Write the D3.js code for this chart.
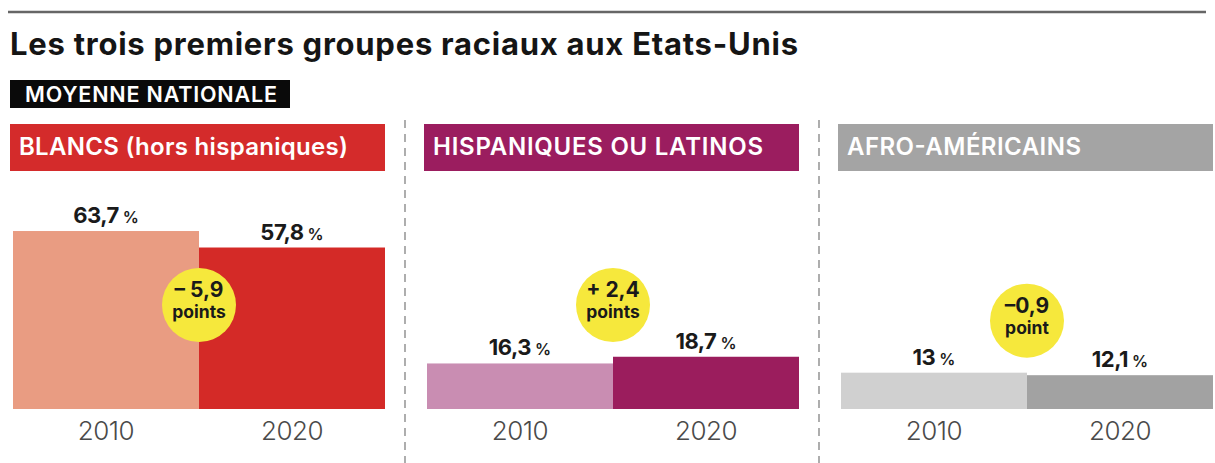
<!DOCTYPE html>
<html>
<head>
<meta charset="utf-8">
<script src="https://cdn.jsdelivr.net/npm/d3@7"></script>
<style>
  html, body { margin: 0; padding: 0; background: #fff; }
  svg { display: block; font-family: Inter, "Noto Sans", sans-serif; }
</style>
</head>
<body>
<svg id="chart" width="1215" height="463"></svg>
<script>
// ---- Data ----
const title = "Les trois premiers groupes raciaux aux Etats-Unis";
const subtitle = "MOYENNE NATIONALE";
const groups = ["BLANCS (hors hispaniques)", "HISPANIQUES OU LATINOS", "AFRO-AMÉRICAINS"];
const years = ["2010", "2020"];
const values2010 = [63.7, 16.3, 13];
const values2020 = [57.8, 18.7, 12.1];

// ---- Styles / layout ----
const headerColors = ["#d42b2b", "#9b1d5f", "#a4a4a4"];
const colors2010 = ["#e99c82", "#c98db2", "#d0d0d0"];
const colors2020 = ["#d42a27", "#9b1d5d", "#a2a2a2"];
const headerTextWidths = [329, 330, 234];
const yellow = "#f6e83c";

const svg = d3.select("#chart");
const locale = d3.formatLocale({ decimal: ",", thousands: " ", grouping: [3], currency: ["", "€"] });
const fmt = v => locale.format(",.1~f")(v);

// Top rule
svg.append("line").attr("x1", 8).attr("x2", 1206).attr("y1", 12).attr("y2", 12)
  .attr("stroke", "#666").attr("stroke-width", 2.5);

// Title
svg.append("text").attr("x", 10).attr("y", 55).text(title)
  .attr("font-size", 31).attr("font-weight", 700).attr("fill", "#151515")
  .attr("textLength", 788).attr("lengthAdjust", "spacing");

// Subtitle badge
const badge = svg.append("g");
badge.append("rect").attr("x", 10).attr("y", 80).attr("width", 280).attr("height", 28).attr("fill", "#0a0a0a");
badge.append("text").attr("x", 25).attr("y", 102).text(subtitle)
  .attr("font-size", 21.5).attr("font-weight", 600).attr("fill", "#fff")
  .attr("textLength", 252).attr("lengthAdjust", "spacing");

// Scales
const panel = d3.scaleBand().domain(groups).range([12, 12 + 414 * 3]).paddingInner(0).paddingOuter(0);
const y = d3.scaleLinear().domain([0, 100]).range([409, 409 - 279.4]);
const barWidth = 372;

groups.forEach((g, i) => {
  const x0 = panel(g);
  const gp = svg.append("g");
  const x = d3.scaleBand().domain(years).range([x0 + 1, x0 + 1 + barWidth]).padding(0);
  const vals = [values2010[i], values2020[i]];
  const cols = [colors2010[i], colors2020[i]];

  // separator
  if (i > 0) {
    gp.append("line").attr("x1", x0 - 21).attr("x2", x0 - 21).attr("y1", 120).attr("y2", 463)
      .attr("stroke", "#9a9a9a").attr("stroke-width", 1.6).attr("stroke-dasharray", "8,6");
  }

  // header
  gp.append("rect").attr("x", x0 - 2).attr("y", 124).attr("width", 375).attr("height", 47)
    .attr("fill", headerColors[i]);
  gp.append("text").attr("x", x0 + 7).attr("y", 155).text(g)
    .attr("font-size", 24).attr("font-weight", 600).attr("fill", "#fff")
    .attr("textLength", headerTextWidths[i]).attr("lengthAdjust", "spacing");

  // bars
  gp.selectAll("rect.bar").data(years).join("rect").attr("class", "bar")
    .attr("x", d => x(d)).attr("width", x.bandwidth())
    .attr("y", (d, j) => y(vals[j])).attr("height", (d, j) => y(0) - y(vals[j]))
    .attr("fill", (d, j) => cols[j]);

  // value labels
  years.forEach((yr, j) => {
    const t = gp.append("text").attr("x", x(yr) + x.bandwidth() / 2).attr("y", y(vals[j]) - 8)
      .attr("text-anchor", "middle").attr("fill", "#1a1a1a");
    t.append("tspan").text(fmt(vals[j])).attr("font-size", 22).attr("font-weight", 700).attr("letter-spacing", -0.5);
    t.append("tspan").text(" %").attr("font-size", 16).attr("font-weight", 600);
  });

  // axis (year labels)
  const axis = d3.axisBottom(x).tickSize(0).tickPadding(8);
  const ag = gp.append("g").attr("transform", `translate(0,${y(0)})`).call(axis);
  ag.select(".domain").remove();
  ag.selectAll("text").attr("font-size", 26).attr("font-weight", 300).attr("fill", "#4a4a4a")
    .attr("font-family", "Inter, sans-serif").attr("dy", "0.88em").attr("letter-spacing", -0.5);

  // change bubble
  const diff = Math.round((vals[1] - vals[0]) * 10) / 10;
  const cx = x0 + 1 + barWidth / 2;
  const cy = Math.max(305, y(d3.max(vals)) - 52);
  gp.append("circle").attr("cx", cx).attr("cy", cy).attr("r", 37).attr("fill", yellow);
  const sign = diff < 0 ? "\u2013" : "+";
  gp.append("text").attr("x", cx).attr("y", cy - 8).attr("text-anchor", "middle")
    .text(`${sign}${Math.abs(diff) >= 1 ? " " : ""}${fmt(Math.abs(diff))}`)
    .attr("font-size", 21).attr("font-weight", 700).attr("fill", "#1a1a1a");
  gp.append("text").attr("x", cx).attr("y", cy + 13).attr("text-anchor", "middle")
    .text(Math.abs(diff) < 2 ? "point" : "points")
    .attr("font-size", 17.5).attr("font-weight", 700).attr("fill", "#1a1a1a");
});
</script>
</body>
</html>
